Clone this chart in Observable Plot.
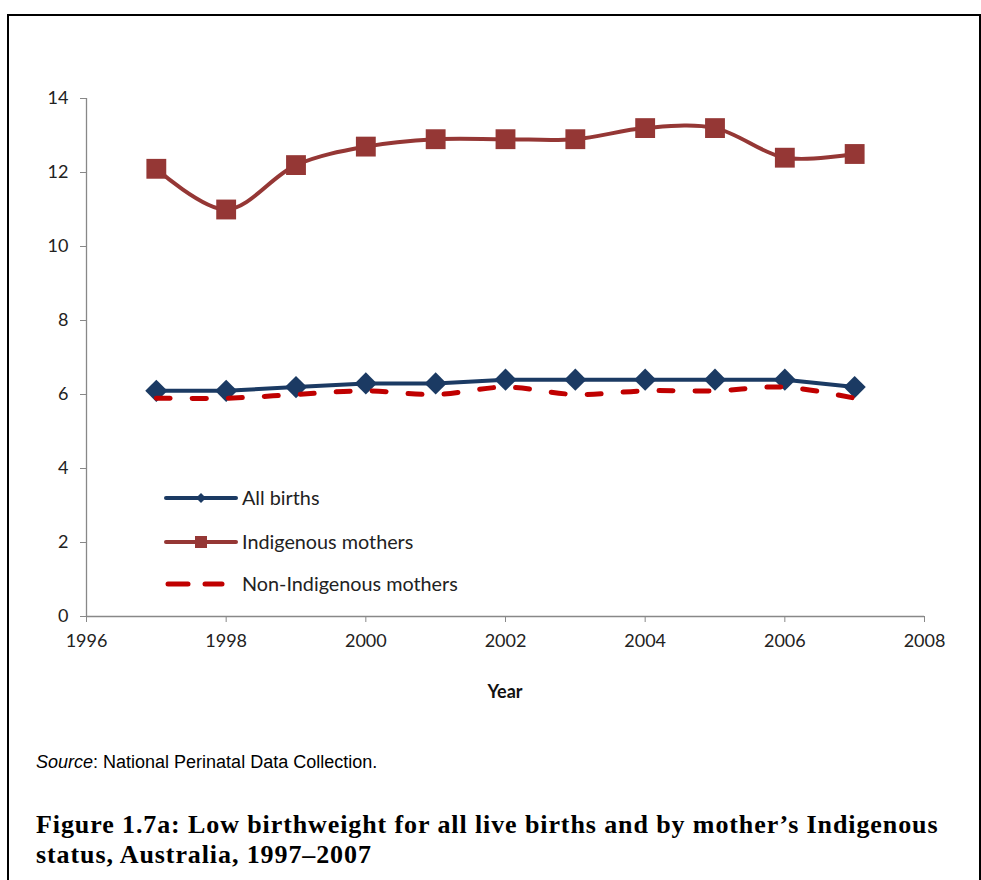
<!DOCTYPE html>
<html>
<head>
<meta charset="utf-8">
<script src="https://cdn.jsdelivr.net/npm/d3@7"></script>
<script src="https://cdn.jsdelivr.net/npm/@observablehq/plot@0.6"></script>
<style>
  html, body { margin: 0; padding: 0; background: #fff; }
  #wrap { position: relative; width: 981px; height: 880px; overflow: hidden; background: #fff; }
  #frame { position: absolute; left: 7px; top: 14px; width: 970px; height: 900px; border: 2px solid #000; border-bottom: none; }
  #chart { position: absolute; left: 0; top: 0; }
  .lg { position: absolute; font-family: Lato, "Open Sans", sans-serif; font-size: 19.8px; color: #222; line-height: 1; }
  .lg svg { position: absolute; left: -78px; top: -1px; }
  #xlabel { position: absolute; left: 0; width: 1010px; top: 680px; text-align: center; font-family: Lato, sans-serif; font-weight: bold; font-size: 18px; color: #111; }
  #source { position: absolute; left: 36px; top: 751px; font-family: "Liberation Sans", Arial, sans-serif; font-size: 18px; line-height: 22px; color: #000; white-space: nowrap; }
  #title { position: absolute; left: 36px; top: 810px; font-family: "Liberation Serif", serif; font-weight: bold; font-size: 26px; letter-spacing: 0.9px; line-height: 30px; color: #000; white-space: nowrap; }
</style>
</head>
<body>
<div id="wrap">
  <div id="frame"></div>
  <div id="chart"></div>
  <div id="xlabel">Year</div>
  <div id="source"><i>Source</i>: National Perinatal Data Collection.</div>
  <div id="title">Figure 1.7a: Low birthweight for all live births and by mother’s Indigenous<br>status, Australia, 1997–2007</div>
</div>
<script>
const years = [1997, 1998, 1999, 2000, 2001, 2002, 2003, 2004, 2005, 2006, 2007];
const allBirths = [6.1, 6.1, 6.2, 6.3, 6.3, 6.4, 6.4, 6.4, 6.4, 6.4, 6.2];
const indigenous = [12.1, 11.0, 12.2, 12.7, 12.9, 12.9, 12.9, 13.2, 13.2, 12.4, 12.5];
const nonIndigenous = [5.9, 5.9, 6.0, 6.1, 6.0, 6.2, 6.0, 6.1, 6.1, 6.2, 5.9];
const xTicks = [1996, 1998, 2000, 2002, 2004, 2006, 2008];
const yTicks = [0, 2, 4, 6, 8, 10, 12, 14];
const seriesNames = ["All births", "Indigenous mothers", "Non-Indigenous mothers"];

const cAll = "#1B3A63", cInd = "#953735", cNon = "#C00000";

const toRows = (vals) => years.map((y, i) => ({year: y, value: vals[i]}));
const rAll = toRows(allBirths), rInd = toRows(indigenous), rNon = toRows(nonIndigenous);

const chart = Plot.plot({
  width: 981,
  height: 720,
  marginTop: 98,
  marginBottom: 104,
  marginLeft: 86,
  marginRight: 57,
  style: {fontFamily: "Lato, 'Open Sans', sans-serif", fontSize: "18px", color: "#222", background: "transparent"},
  x: {domain: [1996, 2008], ticks: xTicks, tickFormat: d => String(d)},
  y: {domain: [0, 14], ticks: yTicks},
  marks: [
    Plot.axisX({ticks: xTicks, tickFormat: d => String(d), tickSize: 6, tickPadding: 12, label: null, stroke: "#888", fill: "#222"}),
    Plot.axisY({ticks: yTicks, tickSize: 6, tickPadding: 12, label: null, stroke: "#888", fill: "#222"}),
    Plot.ruleX([1996], {stroke: "#888", strokeWidth: 1.3}),
    Plot.ruleY([0], {stroke: "#888", strokeWidth: 1.3}),
    Plot.line(rInd, {x: "year", y: "value", stroke: cInd, strokeWidth: 4, curve: "catmull-rom"}),
    Plot.dot(rInd, {x: "year", y: "value", symbol: "square", r: 11.2, fill: cInd, stroke: null}),
    Plot.line(rAll, {x: "year", y: "value", stroke: cAll, strokeWidth: 4}),
    Plot.dot(rAll, {x: "year", y: "value", symbol: "diamond2", r: 10, fill: cAll, stroke: null}),
    Plot.line(rNon, {x: "year", y: "value", stroke: cNon, strokeWidth: 5, strokeDasharray: "14,22", strokeLinecap: "round", curve: "catmull-rom"})
  ]
});
document.getElementById("chart").appendChild(chart);

// Legend (overlay)
const legendSpec = [
  {name: seriesNames[0], top: 488, swatch: `<line x1="2" y1="11" x2="72" y2="11" stroke="${cAll}" stroke-width="4" stroke-linecap="round"/><path d="M37 6 L42 11 L37 16 L32 11 Z" fill="${cAll}"/>`},
  {name: seriesNames[1], top: 532, swatch: `<line x1="2" y1="11" x2="72" y2="11" stroke="${cInd}" stroke-width="4" stroke-linecap="round"/><rect x="31" y="5" width="12" height="12" fill="${cInd}"/>`},
  {name: seriesNames[2], top: 574, swatch: `<line x1="4" y1="11" x2="24" y2="11" stroke="${cNon}" stroke-width="5" stroke-linecap="round"/><line x1="41" y1="11" x2="58" y2="11" stroke="${cNon}" stroke-width="5" stroke-linecap="round"/>`}
];
const wrap = document.getElementById("wrap");
legendSpec.forEach(d => {
  const el = document.createElement("div");
  el.className = "lg";
  el.style.left = "242px";
  el.style.top = d.top + "px";
  el.innerHTML = `<svg width="76" height="22">${d.swatch}</svg>${d.name}`;
  wrap.appendChild(el);
});
</script>
</body>
</html>
